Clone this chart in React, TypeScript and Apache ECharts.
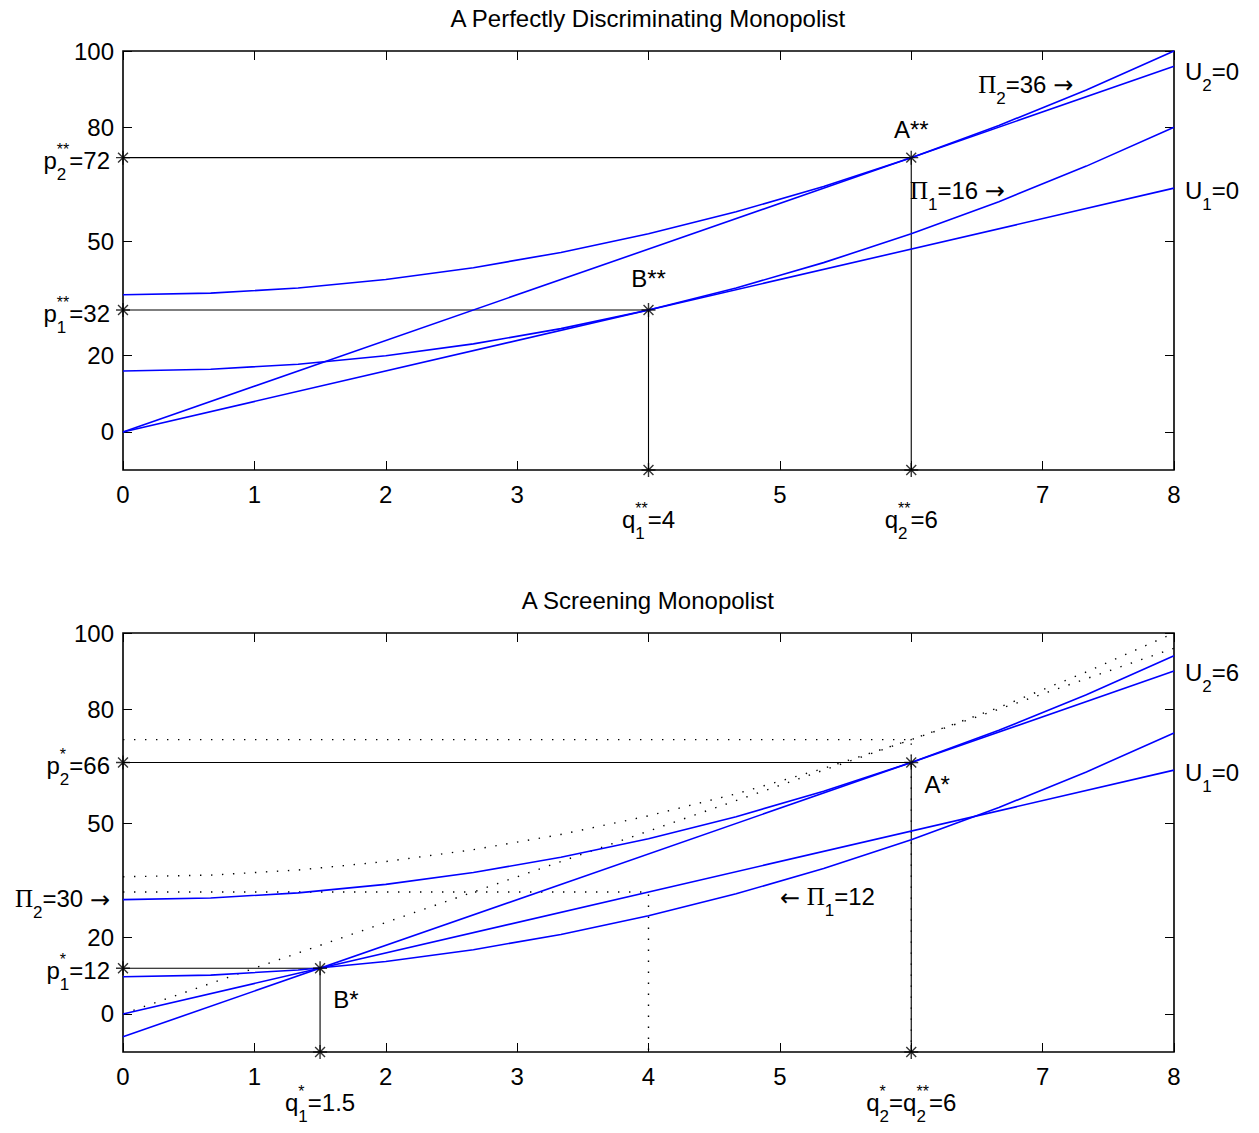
import React, { useEffect, useRef } from "react";
import * as echarts from "echarts";

const FONT = '"Liberation Sans", Arial, Helvetica, sans-serif';
const SERIF = '"Liberation Serif", "Times New Roman", serif';
const ARROW = '"DejaVu Sans", sans-serif';
const FS = 24;
const SUBFS = 17;
const SUPFS = 16;

// ---- axes ----
const X_TICKS_MIN = 0;
const X_TICKS_MAX = 8;
const Y_MIN = -10;
const Y_MAX = 100;
const Y_TICKS = [0, 20, 50, 80, 100];
const TOP_HIDDEN_X_LABELS = [4, 6];
const BOT_HIDDEN_X_LABELS = [6];

const Q_GRID = [0, 0.667, 1.333, 2, 2.667, 3.333, 4, 4.667, 5.333, 6, 6.667, 7.333, 8];
// top panel
const TOP_PROFIT2 = [36, 36.44, 37.78, 40, 43.11, 47.11, 52, 57.78, 64.44, 72, 80.44, 89.78, 100];
const TOP_PROFIT1 = [16, 16.44, 17.78, 20, 23.11, 27.11, 32, 37.78, 44.44, 52, 60.44, 69.78, 80];
const LINE_Q = [0, 8];
const TOP_U2 = [0, 96];
const TOP_U1 = [0, 64];
// bottom panel
const BOT_PROFIT2 = [30, 30.44, 31.78, 34, 37.11, 41.11, 46, 51.78, 58.44, 66, 74.44, 83.78, 94];
const BOT_PROFIT1 = [9.75, 10.19, 11.53, 13.75, 16.86, 20.86, 25.75, 31.53, 38.19, 45.75, 54.19, 63.53, 73.75];
const BOT_U2 = [-6, 90];
const BOT_U1 = [0, 64];

// guide lines (solid black with star markers)
const TOP_GUIDE_A_Q = [0, 6, 6];
const TOP_GUIDE_A_P = [72, 72, -10];
const TOP_GUIDE_B_Q = [0, 4, 4];
const TOP_GUIDE_B_P = [32, 32, -10];
const BOT_GUIDE_A_Q = [0, 6, 6];
const BOT_GUIDE_A_P = [66, 66, -10];
const BOT_GUIDE_B_Q = [0, 1.5, 1.5];
const BOT_GUIDE_B_P = [12, 12, -10];

type Tok = { t: string; sub?: string; sup?: string; font?: string; fs?: number; dy?: number };
type Ann = { x: number; y: number; dx: number; dy: number; align: "left" | "right" | "center"; toks: Tok[] };

const TITLES = ["A Perfectly Discriminating Monopolist", "A Screening Monopolist"];

const PI = (sub: string): Tok => ({ t: "Π", sub, font: SERIF, fs: 25 });
const RA: Tok = { t: "→", font: ARROW, fs: 24, dy: 1 };
const LA: Tok = { t: "←", font: ARROW, fs: 24, dy: 1 };

const TOP_ANN: Ann[] = [
  { x: 0, y: 72, dx: -13, dy: 3, align: "right", toks: [{ t: "p", sub: "2", sup: "**" }, { t: "=72" }] },
  { x: 0, y: 32, dx: -13, dy: 3, align: "right", toks: [{ t: "p", sub: "1", sup: "**" }, { t: "=32" }] },
  { x: 4, y: -10, dx: 0, dy: 49, align: "center", toks: [{ t: "q", sub: "1", sup: "**" }, { t: "=4" }] },
  { x: 6, y: -10, dx: 0, dy: 49, align: "center", toks: [{ t: "q", sub: "2", sup: "**" }, { t: "=6" }] },
  { x: 6, y: 72, dx: 0, dy: -28, align: "center", toks: [{ t: "A**" }] },
  { x: 4, y: 32, dx: 0, dy: -32, align: "center", toks: [{ t: "B**" }] },
  { x: 6.51, y: 91.3, dx: 0, dy: 0, align: "left", toks: [PI("2"), { t: "=36 " }, RA] },
  { x: 5.99, y: 63.5, dx: 0, dy: 0, align: "left", toks: [PI("1"), { t: "=16 " }, RA] },
  { x: 8, y: 94.7, dx: 11, dy: 0, align: "left", toks: [{ t: "U", sub: "2" }, { t: "=0" }] },
  { x: 8, y: 63.5, dx: 11, dy: 0, align: "left", toks: [{ t: "U", sub: "1" }, { t: "=0" }] },
];

const BOT_ANN: Ann[] = [
  { x: 0, y: 66, dx: -13, dy: 3, align: "right", toks: [{ t: "p", sub: "2", sup: "*" }, { t: "=66" }] },
  { x: 0, y: 12, dx: -13, dy: 2, align: "right", toks: [{ t: "p", sub: "1", sup: "*" }, { t: "=12" }] },
  { x: 0, y: 30.2, dx: -13, dy: 0, align: "right", toks: [PI("2"), { t: "=30 " }, RA] },
  { x: 1.5, y: -10, dx: 0, dy: 50, align: "center", toks: [{ t: "q", sub: "1", sup: "*" }, { t: "=1.5" }] },
  { x: 6, y: -10, dx: 0, dy: 50, align: "center", toks: [{ t: "q", sub: "2", sup: "*" }, { t: "=q", sub: "2", sup: "**" }, { t: "=6" }] },
  { x: 6.1, y: 60.1, dx: 0, dy: 0, align: "left", toks: [{ t: "A*" }] },
  { x: 1.6, y: 3.7, dx: 0, dy: 0, align: "left", toks: [{ t: "B*" }] },
  { x: 5.0, y: 30.7, dx: 0, dy: 0, align: "left", toks: [LA, { t: " " }, PI("1"), { t: "=12" }] },
  { x: 8, y: 89.5, dx: 11, dy: 0, align: "left", toks: [{ t: "U", sub: "2" }, { t: "=6" }] },
  { x: 8, y: 63.5, dx: 11, dy: 0, align: "left", toks: [{ t: "U", sub: "1" }, { t: "=0" }] },
];

const STAR = "path://M0,-10L0,10M-10,0L10,0M-7.07,-7.07L7.07,7.07M-7.07,7.07L7.07,-7.07";

function pts(xs: number[], ys: number[]) {
  return xs.map((x, i) => [x, ys[i]]);
}

const HIDDEN_LINE = { show: false, onZero: false };

function xAxisPair(gi: number, hidden: number[]) {
  const tick = { show: true, inside: true, length: 9, lineStyle: { color: "#000", width: 1 } };
  return [
    {
      type: "value", gridIndex: gi, min: X_TICKS_MIN, max: X_TICKS_MAX, interval: 1, position: "bottom",
      axisLine: HIDDEN_LINE, splitLine: { show: false }, axisTick: tick,
      axisLabel: {
        show: true, margin: 12, color: "#000", fontFamily: FONT, fontSize: FS,
        formatter: (v: number) => (hidden.indexOf(v) >= 0 ? "" : String(v)),
      },
    },
    {
      type: "value", gridIndex: gi, min: X_TICKS_MIN, max: X_TICKS_MAX, interval: 1, position: "top",
      axisLine: HIDDEN_LINE, splitLine: { show: false }, axisTick: tick, axisLabel: { show: false },
    },
  ];
}

function yAxisPair(gi: number) {
  const tick = { show: true, inside: true, length: 9, customValues: Y_TICKS, lineStyle: { color: "#000", width: 1 } };
  return [
    {
      type: "value", gridIndex: gi, min: Y_MIN, max: Y_MAX, position: "left",
      axisLine: HIDDEN_LINE, splitLine: { show: false }, axisTick: tick,
      axisLabel: { show: true, margin: 9, color: "#000", fontFamily: FONT, fontSize: FS, customValues: Y_TICKS },
    },
    {
      type: "value", gridIndex: gi, min: Y_MIN, max: Y_MAX, position: "right",
      axisLine: HIDDEN_LINE, splitLine: { show: false }, axisTick: tick, axisLabel: { show: false },
    },
  ];
}

function lineSeries(gi: number, data: number[][], kind: "blue" | "black" | "dot") {
  const style =
    kind === "blue"
      ? { color: "#0000ff", width: 1.6, type: "solid" }
      : kind === "black"
      ? { color: "#000", width: 1.1, type: "solid" }
      : { color: "#000", width: 1.4, type: [1.4, 9.6] };
  return {
    type: "line", xAxisIndex: gi * 2, yAxisIndex: gi * 2, data, symbol: "none", clip: false, silent: true,
    lineStyle: style, z: kind === "dot" ? 1 : kind === "black" ? 2 : 3,
  };
}

function starSeries(gi: number, data: number[][]) {
  return {
    type: "scatter", xAxisIndex: gi * 2, yAxisIndex: gi * 2, data, symbol: STAR, symbolSize: 14, clip: false,
    silent: true, itemStyle: { color: "rgba(0,0,0,0)", borderColor: "#000", borderWidth: 1.4 }, z: 5,
  };
}

export default function App() {
  const ref = useRef<HTMLDivElement>(null);
  useEffect(() => {
    if (!ref.current) return;
    const chart = echarts.init(ref.current, undefined, { renderer: "svg" });

    const topGuideA = pts(TOP_GUIDE_A_Q, TOP_GUIDE_A_P);
    const topGuideB = pts(TOP_GUIDE_B_Q, TOP_GUIDE_B_P);
    const botGuideA = pts(BOT_GUIDE_A_Q, BOT_GUIDE_A_P);
    const botGuideB = pts(BOT_GUIDE_B_Q, BOT_GUIDE_B_P);

    const series: any[] = [
      // top
      lineSeries(0, topGuideA, "black"),
      lineSeries(0, topGuideB, "black"),
      lineSeries(0, pts(Q_GRID, TOP_PROFIT2), "blue"),
      lineSeries(0, pts(Q_GRID, TOP_PROFIT1), "blue"),
      lineSeries(0, pts(LINE_Q, TOP_U2), "blue"),
      lineSeries(0, pts(LINE_Q, TOP_U1), "blue"),
      starSeries(0, [...topGuideA, ...topGuideB]),
      // bottom: dotted copies of the first-best picture
      lineSeries(1, pts(Q_GRID, TOP_PROFIT2), "dot"),
      lineSeries(1, pts(LINE_Q, TOP_U2), "dot"),
      lineSeries(1, topGuideA, "dot"),
      lineSeries(1, topGuideB, "dot"),
      lineSeries(1, botGuideA, "black"),
      lineSeries(1, botGuideB, "black"),
      lineSeries(1, pts(Q_GRID, BOT_PROFIT2), "blue"),
      lineSeries(1, pts(Q_GRID, BOT_PROFIT1), "blue"),
      lineSeries(1, pts(LINE_Q, BOT_U2), "blue"),
      lineSeries(1, pts(LINE_Q, BOT_U1), "blue"),
      starSeries(1, [...botGuideA, ...botGuideB]),
    ];

    const gridBase = { show: true, borderColor: "#000", borderWidth: 1.6, backgroundColor: "transparent", containLabel: false };
    chart.setOption({
      animation: false,
      backgroundColor: "#fff",
      textStyle: { fontFamily: FONT },
      grid: [
        { ...gridBase, left: 123, top: 51, width: 1051, height: 419 },
        { ...gridBase, left: 123, top: 633, width: 1051, height: 419 },
      ],
      xAxis: [...xAxisPair(0, TOP_HIDDEN_X_LABELS), ...xAxisPair(1, BOT_HIDDEN_X_LABELS)],
      yAxis: [...yAxisPair(0), ...yAxisPair(1)],
      series,
    });

    const canvas = document.createElement("canvas");
    const ctx = canvas.getContext("2d")!;
    const measure = (s: string, fs: number, font: string = FONT) => {
      ctx.font = `${fs}px ${font}`;
      return ctx.measureText(s).width;
    };
    const txt = (s: string, x: number, y: number, fs: number, font: string = FONT) => ({
      type: "text", x, y, silent: true,
      style: {
        text: s, fontSize: fs, fontFamily: font, fill: "#000",
        align: "left", verticalAlign: "middle", textAlign: "left", textVerticalAlign: "middle",
      },
    });
    const toPx = (gi: number, x: number, y: number) =>
      chart.convertToPixel({ xAxisIndex: gi * 2, yAxisIndex: gi * 2 } as any, [x, y]) as number[];

    const elements: any[] = [];
    const build = (gi: number, a: Ann) => {
      const [px0, py0] = toPx(gi, a.x, a.y);
      const px = px0 + a.dx;
      const py = py0 + a.dy;
      const w = a.toks.map((tk) => {
        const wb = measure(tk.t, tk.fs || FS, tk.font || FONT);
        const ws = tk.sub ? measure(tk.sub, SUBFS) : 0;
        const wp = tk.sup ? measure(tk.sup, SUPFS) : 0;
        return { wb, adv: wb + Math.max(ws, wp) };
      });
      const total = w.reduce((s, v) => s + v.adv, 0);
      let x = a.align === "left" ? px : a.align === "right" ? px - total : px - total / 2;
      a.toks.forEach((tk, i) => {
        elements.push(txt(tk.t, x, py + (tk.dy || 0), tk.fs || FS, tk.font || FONT));
        if (tk.sub) elements.push(txt(tk.sub, x + w[i].wb, py + 14, SUBFS));
        if (tk.sup) elements.push(txt(tk.sup, x + w[i].wb, py - 11, SUPFS));
        x += w[i].adv;
      });
    };
    TOP_ANN.forEach((a) => build(0, a));
    BOT_ANN.forEach((a) => build(1, a));

    TITLES.forEach((t, gi) => {
      const [cx, ty] = toPx(gi, (X_TICKS_MIN + X_TICKS_MAX) / 2, Y_MAX);
      const wt = measure(t, FS);
      elements.push(txt(t, cx - wt / 2, ty - 33, FS));
    });

    chart.setOption({ graphic: { elements } });

    return () => chart.dispose();
  }, []);

  return <div ref={ref} style={{ position: "absolute", left: 0, top: 0, width: 1259, height: 1133 }} />;
}
